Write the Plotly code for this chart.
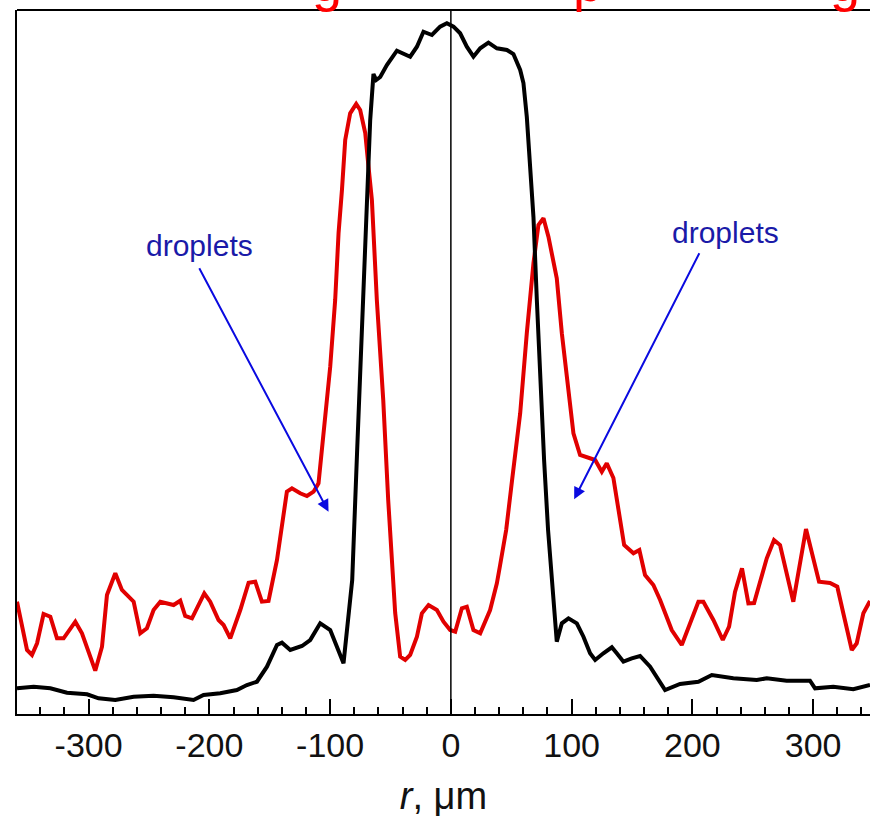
import plotly.graph_objects as go

# radial position (µm) and intensity (arb. units) of the black profile
black_r = [-359.3, -345.5, -331.7, -317.9, -301.3, -291.7, -277.9, -262.7, -246.2, -229.6,
           -213.1, -204.8, -191.0, -177.2, -168.9, -160.6, -152.3, -144.0, -139.9, -133.0,
           -123.3, -116.5, -108.2, -99.9, -88.9, -84.8, -81.7, -77.6, -73.5, -69.3,
           -66.8, -64.1, -61.8, -58.5, -53.0, -44.7, -36.4, -33.7, -28.1, -22.7,
           -15.7, -8.9, -3.3, 2.2, 7.7, 13.2, 18.7, 24.3, 31.1, 38.1,
           46.4, 51.8, 57.4, 60.1, 62.9, 65.6, 68.4, 71.2, 73.9, 77.2,
           80.5, 83.6, 87.7, 91.9, 97.4, 104.3, 109.8, 115.3, 119.5, 126.3,
           133.3, 137.4, 142.9, 149.8, 156.7, 165.0, 177.4, 189.8, 205.0, 216.1,
           233.9, 253.3, 261.6, 278.1, 297.4, 301.6, 316.7, 333.3, 347.1]
black_v = [25.7, 27.3, 25.7, 21.3, 19.7, 15.7, 14.0, 17.3, 18.3, 16.7,
           14.0, 19.0, 20.7, 24.0, 29.0, 32.3, 47.3, 69.0, 71.3, 64.0,
           68.0, 74.0, 90.7, 84.0, 50.7, 100.7, 134.0, 264.0, 394.0, 524.0,
           594.0, 640.0, 634.0, 637.0, 649.0, 663.3, 658.0, 657.3, 667.3, 682.3,
           679.0, 687.3, 690.7, 687.3, 680.7, 667.3, 657.3, 665.7, 671.3, 665.7,
           664.0, 660.0, 644.0, 631.0, 597.0, 547.0, 497.0, 414.0, 334.0, 254.0,
           184.0, 131.0, 72.3, 90.7, 95.7, 90.7, 77.3, 60.7, 54.0, 60.7,
           66.7, 60.7, 52.3, 55.7, 58.0, 47.3, 24.0, 30.0, 32.3, 39.0,
           35.7, 34.0, 35.7, 33.3, 33.3, 25.7, 27.3, 24.7, 29.0]

# radial position (µm) and intensity (arb. units) of the red profile
red_r = [-359.3, -351.0, -346.9, -342.7, -337.3, -331.7, -326.2, -320.7, -311.0, -305.5,
         -294.5, -288.9, -284.8, -277.9, -272.4, -262.7, -257.2, -251.7, -246.2, -240.6,
         -229.6, -224.1, -220.0, -214.4, -204.2, -199.3, -192.4, -188.2, -182.7, -174.4,
         -167.5, -162.0, -156.5, -151.0, -144.0, -135.8, -131.6, -124.8, -119.2, -113.7,
         -109.6, -108.2, -105.5, -99.9, -95.8, -93.0, -90.2, -87.5, -83.4, -78.4,
         -75.1, -70.9, -68.2, -65.4, -61.3, -56.0, -51.9, -48.6, -46.1, -42.0,
         -37.8, -33.7, -28.1, -24.0, -18.5, -11.6, -6.1, -0.6, 3.6, 9.1,
         13.2, 18.7, 24.3, 32.5, 38.1, 40.8, 45.8, 50.7, 54.1, 57.4,
         62.9, 68.4, 72.5, 76.7, 80.8, 87.7, 91.9, 97.4, 101.5, 107.0,
         113.9, 119.5, 125.0, 129.1, 134.6, 138.7, 143.5, 151.2, 156.1, 160.8,
         167.7, 173.3, 182.9, 191.2, 198.1, 205.0, 209.1, 217.4, 225.2, 230.4,
         235.3, 241.1, 246.4, 251.1, 261.6, 267.6, 272.6, 283.6, 294.1, 304.9,
         314.0, 320.0, 325.0, 332.0, 336.1, 341.6, 347.1]
red_v = [112.3, 64.0, 59.0, 70.7, 100.0, 97.3, 75.7, 75.7, 92.3, 80.7,
         43.3, 67.3, 119.0, 140.7, 124.0, 112.3, 80.7, 85.7, 104.0, 112.3,
         109.0, 113.3, 98.0, 95.7, 120.7, 112.3, 94.0, 89.0, 75.7, 104.0,
         131.3, 132.3, 112.3, 113.0, 154.0, 222.3, 225.7, 220.7, 218.0, 222.3,
         230.7, 247.3, 281.0, 347.3, 414.0, 481.0, 524.0, 574.0, 600.7, 610.0,
         604.0, 581.0, 547.3, 514.0, 414.0, 314.0, 214.0, 144.0, 101.0, 57.3,
         54.0, 59.0, 77.3, 100.7, 109.0, 104.0, 92.3, 84.0, 82.3, 105.7,
         107.3, 84.0, 80.7, 104.0, 130.7, 149.0, 184.0, 234.0, 269.0, 300.7,
         381.0, 450.7, 489.0, 495.7, 477.3, 435.7, 380.7, 327.3, 280.7, 259.0,
         255.7, 254.0, 242.3, 250.7, 236.0, 207.3, 169.0, 160.7, 164.0, 139.0,
         129.0, 114.0, 84.0, 69.0, 90.7, 112.3, 112.3, 94.0, 74.0, 87.3,
         122.0, 145.7, 110.7, 111.0, 155.7, 174.0, 169.0, 112.3, 185.0, 132.3,
         131.0, 127.3, 100.7, 64.0, 70.7, 100.7, 113.0]

tick_vals = [-300, -200, -100, 0, 100, 200, 300]
tick_text = ["-300", "-200", "-100", "0", "100", "200", "300"]

# annotation labels: text centre and arrow tail/tip (data coords)
label_text = ["droplets", "droplets"]
label_r = [-208.0, 227.1]
label_v = [469.0, 482.0]
arrow_tail_r = [-209.0, 206.4]
arrow_tail_v = [447.3, 462.3]
arrow_tip_r = [-101.3, 102.1]
arrow_tip_v = [202.3, 214.7]

FONT = "Liberation Sans, Arial, sans-serif"

fig = go.Figure()
fig.add_trace(go.Scatter(x=red_r, y=red_v, mode="lines",
                         line=dict(color="#e10000", width=4), hoverinfo="skip"))
fig.add_trace(go.Scatter(x=black_r, y=black_v, mode="lines",
                         line=dict(color="#000000", width=4), hoverinfo="skip"))

# thin vertical line at r = 0
fig.add_shape(type="line", xref="x", yref="paper", x0=0, x1=0, y0=0, y1=1,
              line=dict(color="black", width=1.5))
# top frame
fig.add_shape(type="line", xref="paper", yref="paper", x0=0, x1=1, y0=1, y1=1,
              line=dict(color="black", width=2))

for t, lr, lv, tr, tv, hr, hv in zip(label_text, label_r, label_v,
                                      arrow_tail_r, arrow_tail_v, arrow_tip_r, arrow_tip_v):
    fig.add_annotation(x=lr, y=lv, text=t, showarrow=False, xref="x", yref="y",
                       font=dict(family=FONT, size=30, color="#1a1aa8"))
    fig.add_annotation(x=hr, y=hv, ax=tr, ay=tv, xref="x", yref="y", axref="x", ayref="y",
                       text="", showarrow=True, arrowhead=2, arrowsize=1.2, arrowwidth=2,
                       arrowcolor="#0a0ae0")

# clipped red title letters at the top edge
for ch, px in [("g", 316), ("p", 582), ("g", 845)]:
    fig.add_annotation(x=px / 870, y=1, xref="paper", yref="paper", text=ch,
                       showarrow=False, xanchor="center", yanchor="bottom", yshift=-4,
                       font=dict(family=FONT, size=54, color="#ff0000"))

fig.update_layout(
    width=870, height=828,
    margin=dict(l=17, r=0, t=10, b=114),
    paper_bgcolor="white", plot_bgcolor="white",
    showlegend=False,
    xaxis=dict(range=[-359.3, 347.1], showgrid=False, zeroline=False,
               showline=True, linecolor="black", linewidth=2,
               ticks="inside", ticklen=15, tickwidth=2, tickcolor="black",
               tickvals=tick_vals, ticktext=tick_text,
               tickfont=dict(family=FONT, size=34, color="#111"),
               minor=dict(dtick=20, tick0=0, ticks="inside", ticklen=7, tickwidth=1.5,
                          tickcolor="black", showgrid=False),
               title=dict(text="<i>r</i>, μm", font=dict(family=FONT, size=38, color="#111"),
                          standoff=20)),
    yaxis=dict(range=[0, 704], showgrid=False, zeroline=False, showticklabels=False,
               ticks="", showline=True, linecolor="black", linewidth=2),
)

fig.write_html("out.html")
